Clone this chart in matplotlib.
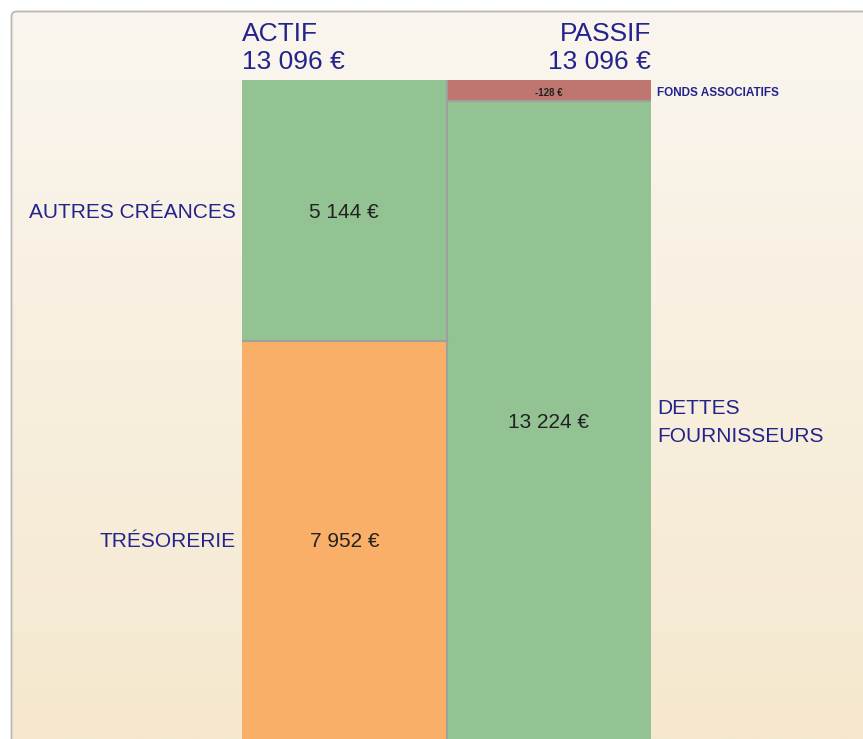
import numpy as np
import matplotlib.pyplot as plt
from matplotlib.patches import FancyBboxPatch

plt.rcParams['font.family'] = ['Liberation Sans', 'DejaVu Sans']

# bilan data
actif_labels = ['AUTRES CRÉANCES', 'TRÉSORERIE']
actif_values = [5144, 7952]
actif_colors = ['#93c393', '#f9af67']

passif_labels = ['FONDS ASSOCIATIFS', 'DETTES\nFOURNISSEURS']
passif_values = [-128, 13224]
passif_colors = ['#bf7670', '#93c393']

total_actif = 13096
total_passif = 13096

NAVY = '#23238c'
W, H = 863, 739


def euros(v):
    return f'{v:,.0f}'.replace(',', ' ') + ' €'


fig = plt.figure(figsize=(W / 100, H / 100), dpi=100)

# background panel with vertical gradient and rounded grey frame
bg = fig.add_axes([0, 0, 1, 1])
bg.set_xlim(0, W)
bg.set_ylim(H, 0)
bg.axis('off')
grad = np.linspace(0, 1, 256)[:, None]
top_c = np.array([250, 246, 239]) / 255
bot_c = np.array([245, 232, 206]) / 255
img = top_c + grad[..., None] * (bot_c - top_c)
bg.imshow(img, extent=(12, W + 20, H, 12), aspect='auto', zorder=0)
frame = FancyBboxPatch((11.5, 11.5), W + 20, H + 20,
                       boxstyle='round,pad=0,rounding_size=5',
                       fc='none', ec='#b8b8b8', lw=1.3, zorder=1)
bg.add_patch(frame)

# bar area: top at y=80 px, bottom cut by the figure edge
ax = fig.add_axes([242 / W, 0, 409 / W, 659 / H])
ax.set_xlim(0, 2)
ymax = 12990
ax.set_ylim(ymax, 0)
ax.axis('off')
ax.patch.set_alpha(0)

px_per_unit = 659 / ymax
min_band = 21 / px_per_unit


def draw_column(x0, labels, values, colors, side):
    heights = [max(abs(v), min_band) for v in values]
    bottoms = np.concatenate([[0], np.cumsum(heights)[:-1]])
    ax.bar(x0, heights, bottom=bottoms, width=1, align='edge',
           color=colors, edgecolor='none', zorder=2)
    for b in bottoms[1:]:
        ax.plot([x0, x0 + 1], [b, b], color='#a0a09a', lw=1.5, zorder=3)
    for lab, v, b, h in zip(labels, values, bottoms, heights):
        yc = (b + min(b + h, ymax)) / 2
        small = abs(v) < min_band
        ax.annotate(euros(v), xy=(x0 + 0.5, yc), xytext=(0, -2),
                    textcoords='offset pixels', ha='center', va='center',
                    fontsize=7 if small else 15,
                    fontweight='bold' if small else 'normal',
                    color='#222222', zorder=4)
        if side == 'left':
            ax.annotate(lab, xy=(x0, yc), xytext=(-6, -2),
                        textcoords='offset pixels', ha='right', va='center',
                        fontsize=15, color=NAVY)
        else:
            ax.annotate(lab, xy=(x0 + 1, yc), xytext=(6, -2),
                        textcoords='offset pixels', ha='left', va='center',
                        fontsize=8.5 if small else 15,
                        fontweight='bold' if small else 'normal',
                        color=NAVY, linespacing=1.6)


draw_column(0, actif_labels, actif_values, actif_colors, 'left')
draw_column(1, passif_labels, passif_values, passif_colors, 'right')
ax.plot([1, 1], [0, ymax], color='#a0a09a', lw=1.5, zorder=3)

# column headers
for x, ha, name, tot in [(0, 'left', 'ACTIF', total_actif),
                         (2, 'right', 'PASSIF', total_passif)]:
    ax.annotate(name, xy=(x, 0), xytext=(0, 39), textcoords='offset pixels',
                ha=ha, va='baseline', fontsize=19, color=NAVY)
    ax.annotate(euros(tot), xy=(x, 0), xytext=(0, 11),
                textcoords='offset pixels', ha=ha, va='baseline',
                fontsize=19, color=NAVY)

fig.savefig('out.png', dpi=100)
